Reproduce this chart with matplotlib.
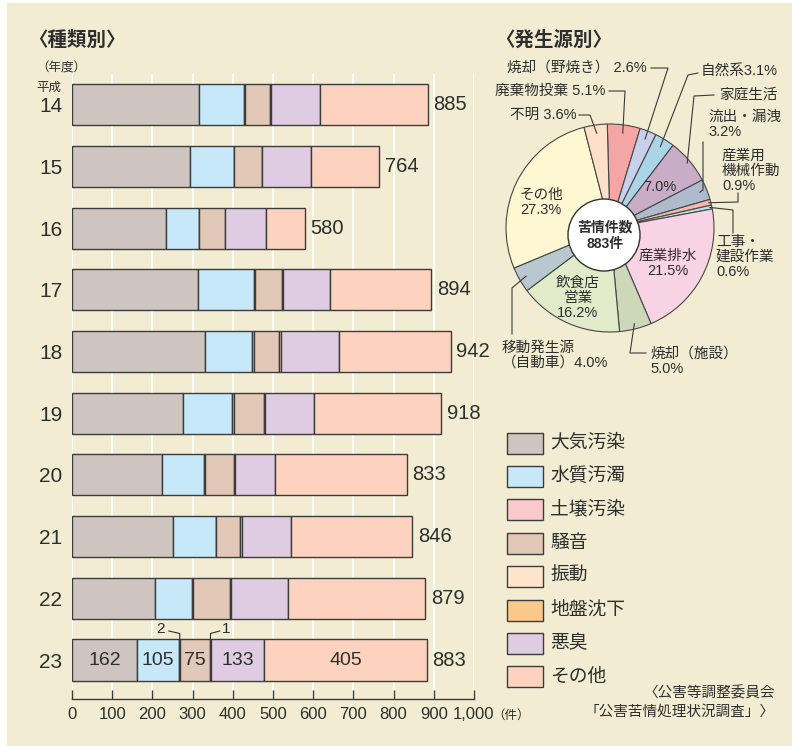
import matplotlib
matplotlib.use("Agg")
import numpy as np
import matplotlib.pyplot as plt
from matplotlib.patches import Rectangle, Circle

plt.rcParams['font.family'] = ['Liberation Sans', 'Noto Sans CJK JP', 'DejaVu Sans']

W, H = 792, 746
CREAM = '#f2ecd2'
INK = '#2e2e2e'
EDGE = '#3c3c3c'

# 種類別 (件数, 平成14〜23年度)
years = ['14', '15', '16', '17', '18', '19', '20', '21', '22', '23']
kinds = ['大気汚染', '水質汚濁', '土壌汚染', '騒音', '振動', '地盤沈下', '悪臭', 'その他']
air = [316, 293, 234, 313, 332, 277, 223, 250, 206, 162]
water = [111, 109, 81, 140, 117, 122, 106, 107, 92, 105]
soil = [3, 2, 2, 2, 3, 3, 2, 2, 3, 2]
noise = [62, 68, 64, 68, 62, 75, 72, 60, 92, 75]
vibration = [2, 1, 0, 2, 5, 3, 2, 3, 3, 1]
subsidence = [0, 0, 0, 0, 0, 0, 0, 0, 0, 0]
odor = [123, 122, 102, 117, 144, 122, 101, 124, 142, 133]
other = [268, 169, 97, 252, 279, 316, 327, 300, 341, 405]
totals = [885, 764, 580, 894, 942, 918, 833, 846, 879, 883]
kind_colors = ['#cfc5c0', '#c6e8f8', '#f9c9cc', '#e2c8b6',
               '#fde4cb', '#f9c88a', '#dfcce2', '#fdd3c0']

# 発生源別 (%, 平成23年度)
sources = ['廃棄物投棄', '焼却（野焼き）', '自然系', '家庭生活', '流出・漏洩',
           '産業用機械作動', '工事・建設作業', '産業排水', '焼却（施設）',
           '飲食店営業', '移動発生源（自動車）', 'その他', '不明']
shares = [5.1, 2.6, 3.1, 7.0, 3.2, 0.9, 0.6, 21.5, 5.0, 16.2, 4.0, 27.3, 3.6]
source_colors = ['#f4a6a4', '#c8d0ec', '#a9d5e7', '#c9adc6', '#aebbcd',
                 '#f7b9a8', '#b8e2ec', '#f8d3e4', '#cdd8b9', '#e1eac9',
                 '#b9c7d0', '#fdf8d2', '#fde0c8']
complaints_total = 883

fig = plt.figure(figsize=(W / 100, H / 100), dpi=100)
fig.patch.set_facecolor('white')
fig.add_artist(Rectangle((7 / W, 0), (W - 7) / W, (H - 3) / H,
                         transform=fig.transFigure, color=CREAM, zorder=-5))

# ---- stacked bars ----
ax = fig.add_axes([72 / W, 1 - 699 / H, 402 / W, 625 / H], facecolor='none')
ypos = np.arange(len(years))
series = [air, water, soil, noise, vibration, subsidence, odor, other]
left = np.zeros(len(years))
for vals, col in zip(series, kind_colors):
    vals = np.asarray(vals, dtype=float)
    m = vals > 0
    ax.barh(ypos[m], vals[m], left=left[m], height=0.665, color=col,
            edgecolor=EDGE, linewidth=1.0, zorder=2)
    left += vals

for y, t in zip(ypos, totals):
    ax.annotate(f'{t}', (left[y], y), xytext=(4, 0), textcoords='offset points',
                ha='left', va='center', fontsize=14.5, color=INK)

# values written inside the latest year
last = len(years) - 1
starts = np.cumsum([0] + [s[last] for s in series[:-1]])
for idx in (0, 1, 3, 6, 7):
    v = series[idx][last]
    ax.text(starts[idx] + v / 2, last, f'{v}', ha='center', va='center',
            fontsize=14, color=INK, zorder=3)

# leaders for the tiny 土壌汚染 / 振動 segments
bar_top = last - 0.3325
for idx, dx_text, dx_elbow in ((2, -48, -27), (4, 39, 23)):
    cx = starts[idx] + series[idx][last] / 2
    ax.plot([cx + dx_elbow, cx, cx], [last - 0.47, last - 0.43, bar_top],
            color=INK, lw=0.8, zorder=3, clip_on=False)
    ax.text(cx + dx_text, last - 0.5, f'{series[idx][last]}', ha='center',
            va='center', fontsize=11, color=INK)

ax.set_xlim(0, 1000)
ax.set_ylim(len(years) - 1 + 0.632, -0.497)
ax.set_xticks(np.arange(0, 1001, 100))
ax.set_xticklabels([f'{v:,}' for v in range(0, 1001, 100)], fontsize=12,
                   color=INK)
ax.set_yticks(ypos)
ax.set_yticklabels(years, fontsize=15, color=INK)
ax.tick_params(axis='y', length=0, pad=7)
ax.tick_params(axis='x', direction='in', length=6.5, width=1.0, color=EDGE,
               pad=6)
for side in ('left', 'right', 'top'):
    ax.spines[side].set_visible(False)
ax.spines['bottom'].set_color(EDGE)
ax.spines['bottom'].set_linewidth(1.0)
ax.xaxis.grid(True, color='white', linewidth=1.3, zorder=0)
ax.set_axisbelow(True)

# ---- overlay canvas in pixel units ----
cv = fig.add_axes([0, 0, 1, 1], facecolor='none')
cv.set_zorder(5)

wedges, _ = cv.pie(shares, colors=source_colors, radius=104, center=(610, 228),
                   startangle=-91.5, counterclock=True, frame=True,
                   wedgeprops=dict(edgecolor='#474747', linewidth=0.8))
cv.set_aspect('auto')
cv.set_xlim(0, W)
cv.set_ylim(H, 0)
cv.set_axis_off()

cv.add_patch(Circle((604, 235), 36, facecolor='white', edgecolor='#333333',
                    linewidth=1.0, zorder=4))
cv.text(605, 236, f'苦情件数\n{complaints_total}件', ha='center', va='center',
        fontsize=10, fontweight='bold', color=INK, linespacing=1.2, zorder=5)


def anchor(i, frac=0.92):
    w = wedges[i]
    th = np.deg2rad((w.theta1 + w.theta2) / 2)
    return w.center[0] + frac * w.r * np.cos(th), w.center[1] + frac * w.r * np.sin(th)


def leader(i, pts, frac=0.92):
    ax_, ay_ = anchor(i, frac)
    xs = [p[0] for p in pts] + [ax_]
    ys = [p[1] for p in pts] + [ay_]
    cv.plot(xs, ys, color='#3a3a3a', lw=0.8, zorder=6)


fs = 10.5
pct = [f'{s:.1f}%' for s in shares]

cv.text(605, 91, f'{sources[0]} {pct[0]}', ha='right', va='center', fontsize=fs, color=INK)
leader(0, [(609, 91), (625, 91)])
cv.text(647, 68, f'{sources[1]} {pct[1]}', ha='right', va='center', fontsize=fs, color=INK)
leader(1, [(651, 68), (668, 68)])
cv.text(701, 72, f'{sources[2]}{pct[2]}', ha='left', va='center', fontsize=fs, color=INK)
leader(2, [(698, 73), (688, 75)])
cv.text(719, 95, sources[3], ha='left', va='center', fontsize=fs, color=INK)
leader(3, [(714, 95), (694, 96)], frac=0.97)
cv.text(660, 187, pct[3], ha='center', va='center', fontsize=fs, color=INK, zorder=5)
cv.text(708, 124, f'流出・漏洩\n{pct[4]}', ha='left', va='center', fontsize=fs,
        color=INK, linespacing=1.1)
leader(4, [(703, 142), (703, 190)], frac=0.93)
cv.text(722, 171, f'産業用\n機械作動\n{pct[5]}', ha='left', va='center',
        fontsize=fs, color=INK, linespacing=1.1)
leader(5, [(738, 193), (738, 202)], frac=0.98)
cv.text(716, 257, f'工事・\n建設作業\n{pct[6]}', ha='left', va='center',
        fontsize=fs, color=INK, linespacing=1.1)
leader(6, [(733, 233), (733, 210)], frac=0.98)
cv.text(668, 263, f'産業排水\n{pct[7]}', ha='center', va='center', fontsize=fs,
        color=INK, linespacing=1.1, zorder=5)
cv.text(650, 361, f'焼却（施設）\n{pct[8]}', ha='left', va='center', fontsize=fs,
        color=INK, linespacing=1.1)
leader(8, [(646, 353), (630, 353)], frac=0.95)
cv.text(578, 298, f'飲食店\n営業\n{pct[9]}', ha='center', va='center', fontsize=fs,
        color=INK, linespacing=1.1, zorder=5)
cv.text(502, 355, f'移動発生源\n（自動車）{pct[10]}', ha='left', va='center',
        fontsize=fs, color=INK, linespacing=1.1)
leader(10, [(512, 334), (512, 288)], frac=0.93)
cv.text(541, 202, f'{sources[11]}\n{pct[11]}', ha='center', va='center',
        fontsize=fs, color=INK, linespacing=1.1, zorder=5)
cv.text(577, 115, f'{sources[12]} {pct[12]}', ha='right', va='center', fontsize=fs, color=INK)
leader(12, [(579, 115), (590, 115)])

# ---- titles and small labels ----
cv.text(28, 40, '〈種類別〉', ha='left', va='center', fontsize=14,
        fontweight='bold', color=INK)
cv.text(495, 40, '〈発生源別〉', ha='left', va='center', fontsize=14,
        fontweight='bold', color=INK)
cv.text(36, 69, '（年度）', ha='left', va='center', fontsize=9, color=INK)
cv.text(36, 88, '平成', ha='left', va='center', fontsize=9, color=INK)
cv.text(492, 716, '（件）', ha='left', va='center', fontsize=9, color=INK)

# ---- legend ----
for i, (k, c) in enumerate(zip(kinds, kind_colors)):
    yc = 443 + i * 33.4
    cv.add_patch(Rectangle((507, yc - 10.5), 36, 21, facecolor=c,
                           edgecolor=EDGE, linewidth=1.0))
    cv.text(550, yc, k, ha='left', va='center', fontsize=13.5, color=INK)

cv.text(775, 693, '〈公害等調整委員会', ha='right', va='center', fontsize=10.5, color=INK)
cv.text(775, 712, '「公害苦情処理状況調査」〉', ha='right', va='center', fontsize=10.5,
        color=INK)

fig.savefig('out.png', dpi=100, facecolor=fig.get_facecolor())
